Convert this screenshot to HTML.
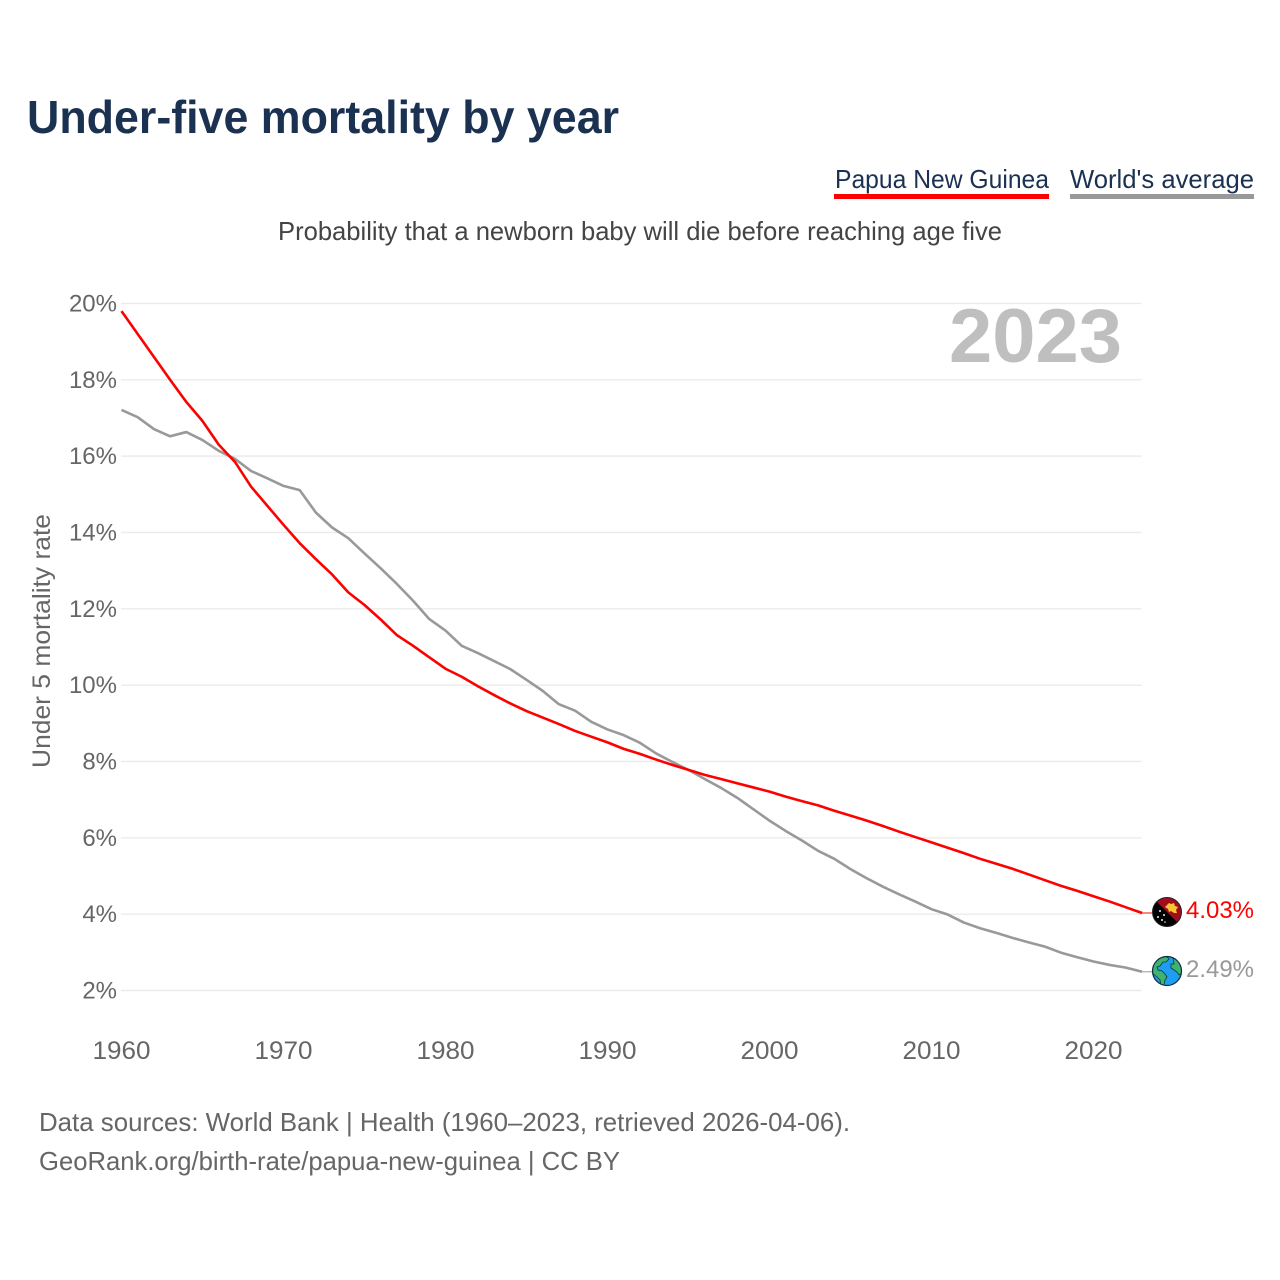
<!DOCTYPE html>
<html>
<head>
<meta charset="utf-8">
<title>Under-five mortality by year</title>
<style>
  html, body { margin: 0; padding: 0; background: #fff; }
  svg { display: block; font-family: "Liberation Sans", sans-serif; }
</style>
</head>
<body>
<svg id="chart" xmlns="http://www.w3.org/2000/svg" width="1280" height="1280" viewBox="0 0 1280 1280">
  <rect x="0" y="0" width="1280" height="1280" fill="#fff"/>
  <text x="27" y="133" font-size="46" font-weight="700" fill="#1a3151" textLength="592" lengthAdjust="spacingAndGlyphs">Under-five mortality by year</text>
  <g>
    <text x="835" y="188" font-size="26" fill="#1a3151" textLength="214" lengthAdjust="spacingAndGlyphs">Papua New Guinea</text>
    <rect x="834" y="194" width="215" height="5" fill="#ff0000"/>
  </g>
  <g>
    <text x="1070" y="188" font-size="26" fill="#1a3151" textLength="184" lengthAdjust="spacingAndGlyphs">World's average</text>
    <rect x="1070" y="194" width="184" height="5" fill="#999999"/>
  </g>
  <text x="278" y="240" font-size="26" fill="#444" textLength="724" lengthAdjust="spacingAndGlyphs">Probability that a newborn baby will die before reaching age five</text>
  <g id="grid"></g>
  <g id="yticks"></g>
  <g id="xticks"></g>
  <text x="949" y="362" font-size="76" font-weight="700" fill="#bfbfbf" textLength="173" lengthAdjust="spacingAndGlyphs">2023</text>
  <text transform="translate(50,768) rotate(-90)" font-size="25" fill="#666" textLength="254" lengthAdjust="spacingAndGlyphs">Under 5 mortality rate</text>
  <g id="lines"></g>

  <g>
    <clipPath id="pngClip"><circle cx="1167" cy="912" r="14.5"/></clipPath>
    <g clip-path="url(#pngClip)">
      <rect x="1150" y="895" width="34" height="34" fill="#000"/>
      <polygon points="1150,895 1184,895 1184,929" fill="#a00d1f"/>
      <path d="M1169,903 l2,1 3,-1 1,3 3,1 -2,3 1,3 -3,0 -3,-2 -2,1 -1,-3 -3,-2 2,-2z" fill="#f7c531"/>
      <g fill="#eee">
        <circle cx="1160" cy="911" r="1"/><circle cx="1164" cy="915" r="1"/>
        <circle cx="1158" cy="917" r="1"/><circle cx="1162" cy="920" r="1"/>
        <circle cx="1165" cy="922" r="0.8"/>
      </g>
    </g>
    <circle cx="1167" cy="912" r="14.5" fill="none" stroke="#222" stroke-width="1"/>
  </g>

  <g>
    <clipPath id="globeClip"><circle cx="1167" cy="971" r="14.5"/></clipPath>
    <circle cx="1167" cy="971" r="14.5" fill="#1e9df2"/>
    <g clip-path="url(#globeClip)" fill="#3cb371" stroke="#0b3d2a" stroke-width="0.8">
      <path d="M1153,964 l5,-6 8,-2 3,3 -3,3 -3,0 -3,4 -3,1 1,3 4,1 3,3 2,3 -2,3 -1,5 -3,1 -1,-6 -3,-3 -5,-4z"/>
      <path d="M1173,958 l7,3 3,7 -1,5 -3,2 -2,-3 -3,-2 -3,-2 0,-4 3,0z"/>
    </g>
    <circle cx="1167" cy="971" r="14.5" fill="none" stroke="#102a43" stroke-width="1.2"/>
  </g>

  <text x="1186" y="918" font-size="24.5" fill="#ff0000" textLength="68" lengthAdjust="spacingAndGlyphs">4.03%</text>
  <text x="1186" y="977" font-size="24.5" fill="#999999" textLength="68" lengthAdjust="spacingAndGlyphs">2.49%</text>

  <text x="39" y="1131" font-size="26" fill="#666" textLength="811" lengthAdjust="spacingAndGlyphs">Data sources: World Bank | Health (1960–2023, retrieved 2026-04-06).</text>
  <text x="39" y="1170" font-size="26" fill="#666" textLength="581" lengthAdjust="spacingAndGlyphs">GeoRank.org/birth-rate/papua-new-guinea | CC BY</text>
</svg>

<script>
const firstYear = 1960;
const yTickValues = [2, 4, 6, 8, 10, 12, 14, 16, 18, 20];
const xTickYears = [1960, 1970, 1980, 1990, 2000, 2010, 2020];
const papuaValues = [
  19.8, 19.2, 18.6, 18.0, 17.42, 16.92, 16.3, 15.85, 15.2, 14.7,
  14.2, 13.72, 13.3, 12.9, 12.43, 12.1, 11.72, 11.31, 11.03, 10.73,
  10.43, 10.22, 9.97, 9.74, 9.52, 9.32, 9.15, 8.98, 8.8, 8.65,
  8.5, 8.33, 8.2, 8.05, 7.91, 7.78, 7.65, 7.54, 7.43, 7.32,
  7.21, 7.08, 6.96, 6.85, 6.71, 6.58, 6.45, 6.31, 6.16, 6.02,
  5.88, 5.74, 5.6, 5.45, 5.32, 5.19, 5.04, 4.89, 4.74, 4.61,
  4.47, 4.33, 4.18, 4.03
];
const worldValues = [
  17.21, 17.02, 16.71, 16.52, 16.63, 16.42, 16.14, 15.93, 15.61, 15.42,
  15.22, 15.11, 14.52, 14.13, 13.85, 13.45, 13.06, 12.65, 12.21, 11.73,
  11.43, 11.03, 10.84, 10.63, 10.42, 10.14, 9.85, 9.5, 9.33, 9.04,
  8.84, 8.69, 8.49, 8.21, 7.99, 7.78, 7.54, 7.31, 7.05, 6.75,
  6.45, 6.18, 5.93, 5.66, 5.45, 5.18, 4.94, 4.72, 4.52, 4.33,
  4.13, 3.99, 3.78, 3.63, 3.51, 3.38, 3.26, 3.15, 2.99, 2.87,
  2.76, 2.67, 2.6, 2.49
];

const SVG_NS = 'http://www.w3.org/2000/svg';
function xScale(year) { return 121.5 + (year - 1960) * 16.2; }
function yScale(value) { return 990.5 - (value - 2) * 38.17; }

const gridGroup = document.getElementById('grid');
const yTickGroup = document.getElementById('yticks');
const xTickGroup = document.getElementById('xticks');
const lineGroup = document.getElementById('lines');

yTickValues.forEach(function (v) {
  const line = document.createElementNS(SVG_NS, 'line');
  
  
  line.setAttribute('x1', 121);
  line.setAttribute('x2', 1141.5);
  line.setAttribute('y1', yScale(v));
  line.setAttribute('y2', yScale(v));
  line.setAttribute('stroke', '#ebebeb');
  line.setAttribute('stroke-width', 1.4);
  gridGroup.appendChild(line);

  const label = document.createElementNS(SVG_NS, 'text');
  
  
  label.setAttribute('x', 117);
  label.setAttribute('y', yScale(v) + 8);
  label.setAttribute('text-anchor', 'end');
  label.setAttribute('font-size', 24);
  label.setAttribute('fill', '#666');
  label.textContent = v + '%';
  yTickGroup.appendChild(label);
});

xTickYears.forEach(function (year) {
  const label = document.createElementNS(SVG_NS, 'text');
  
  
  label.setAttribute('x', xScale(year));
  label.setAttribute('y', 1059);
  label.setAttribute('text-anchor', 'middle');
  label.setAttribute('font-size', 25);
  label.setAttribute('fill', '#666');
  label.setAttribute('textLength', 58);
  label.setAttribute('lengthAdjust', 'spacingAndGlyphs');
  label.textContent = year;
  xTickGroup.appendChild(label);
});

function pathFor(values) {
  return values.map(function (v, i) {
    return (i ? 'L' : 'M') + xScale(firstYear + i).toFixed(2) + ',' + yScale(v).toFixed(2);
  }).join(' ');
}

const worldLine = document.createElementNS(SVG_NS, 'path');


worldLine.setAttribute('d', pathFor(worldValues));
worldLine.setAttribute('fill', 'none');
worldLine.setAttribute('stroke', '#999999');
worldLine.setAttribute('stroke-width', 2.6);
worldLine.setAttribute('stroke-linejoin', 'round');
lineGroup.appendChild(worldLine);

const papuaLine = document.createElementNS(SVG_NS, 'path');


papuaLine.setAttribute('d', pathFor(papuaValues));
papuaLine.setAttribute('fill', 'none');
papuaLine.setAttribute('stroke', '#ff0000');
papuaLine.setAttribute('stroke-width', 2.6);
papuaLine.setAttribute('stroke-linejoin', 'round');
lineGroup.appendChild(papuaLine);

const lastX = xScale(firstYear + papuaValues.length - 1);

const papuaTail = document.createElementNS(SVG_NS, 'line');


papuaTail.setAttribute('x1', lastX);
papuaTail.setAttribute('x2', 1152);
papuaTail.setAttribute('y1', yScale(papuaValues[papuaValues.length - 1]));
papuaTail.setAttribute('y2', yScale(papuaValues[papuaValues.length - 1]));
papuaTail.setAttribute('stroke', '#ff0000');
papuaTail.setAttribute('stroke-width', 1);
lineGroup.appendChild(papuaTail);

const worldTail = document.createElementNS(SVG_NS, 'line');


worldTail.setAttribute('x1', lastX);
worldTail.setAttribute('x2', 1152);
worldTail.setAttribute('y1', yScale(worldValues[worldValues.length - 1]));
worldTail.setAttribute('y2', yScale(worldValues[worldValues.length - 1]));
worldTail.setAttribute('stroke', '#999999');
worldTail.setAttribute('stroke-width', 1);
lineGroup.appendChild(worldTail);
</script>
</body>
</html>
